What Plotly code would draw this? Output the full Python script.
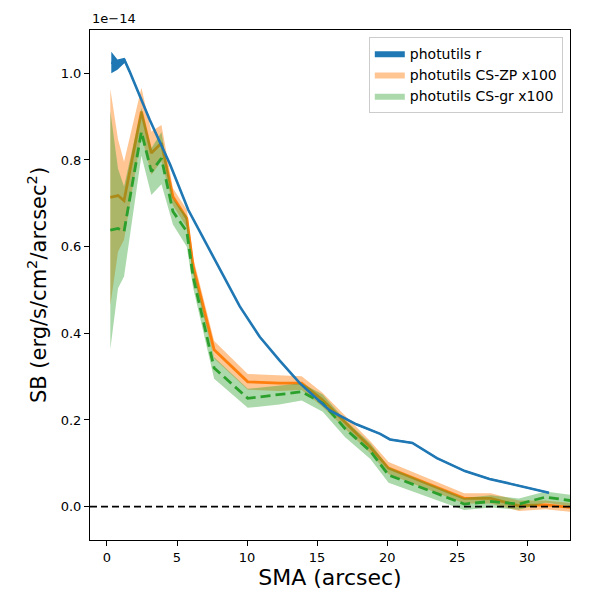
import plotly.graph_objects as go

# surface brightness profiles, values in units of 1e-14 erg/s/cm2/arcsec2
sma_r = [0.31, 0.75, 1.26, 1.62, 3.05, 4.5, 5.8, 7.57, 9.48, 10.9, 12.3, 13.76,
         15.9, 17.8, 19.5, 20.2, 21.8, 23.55, 25.55, 27.3, 29.5, 31.55]
sb_r = [1.025, 1.02, 1.03, 1.004, 0.893, 0.79, 0.685, 0.577, 0.462, 0.392, 0.338, 0.285,
        0.222, 0.19, 0.168, 0.155, 0.147, 0.112, 0.082, 0.064, 0.048, 0.032]
err_r = [0.025, 0.012, 0.006, 0.004, 0.003, 0.003, 0.002, 0.002, 0.002, 0.002, 0.002, 0.002,
         0.002, 0.002, 0.002, 0.002, 0.002, 0.002, 0.002, 0.002, 0.002, 0.002]

sma_cs = [0.24, 0.79, 1.22, 2.46, 3.17, 3.89, 4.71, 5.7, 6.15, 7.65, 10.05, 12.3,
          13.9, 15.4, 17.0, 18.8, 20.1, 25.5, 27.4, 29.4, 31.3, 33.1]
sb_zp = [0.714, 0.718, 0.706, 0.912, 0.816, 0.839, 0.715, 0.665, 0.555, 0.362, 0.288, 0.285,
         0.285, 0.246, 0.195, 0.137, 0.089, 0.019, 0.019, 0.002, 0.004, -0.002]
err_zp = [0.25, 0.13, 0.09, 0.055, 0.05, 0.042, 0.02, 0.02, 0.02, 0.02, 0.018, 0.018,
          0.016, 0.016, 0.015, 0.014, 0.014, 0.012, 0.012, 0.012, 0.01, 0.01]
sb_gr = [0.638, 0.642, 0.635, 0.865, 0.773, 0.804, 0.681, 0.635, 0.53, 0.32, 0.25, 0.258,
         0.265, 0.239, 0.18, 0.128, 0.073, 0.006, 0.012, 0.006, 0.022, 0.014]
err_gr = [0.275, 0.138, 0.104, 0.055, 0.054, 0.06, 0.03, 0.035, 0.025, 0.025, 0.022, 0.022,
          0.02, 0.02, 0.02, 0.018, 0.018, 0.014, 0.014, 0.013, 0.013, 0.013]

FONT = "DejaVu Sans"


def band(x, y, err, fill, name, rank):
    hi = [a + e for a, e in zip(y, err)]
    lo = [a - e for a, e in zip(y, err)]
    return go.Scatter(x=list(x) + list(x)[::-1], y=hi + lo[::-1], fill='toself',
                      fillcolor=fill, mode='lines', line=dict(width=0),
                      name=name, legendrank=rank, hoverinfo='skip')


fig = go.Figure()

fig.add_trace(band(sma_cs, sb_zp, err_zp, 'rgba(255,127,14,0.45)', 'photutils CS-ZP x100', 2))
fig.add_trace(go.Scatter(x=sma_cs, y=sb_zp, mode='lines', line=dict(color='#ff7f0e', width=2.8),
                         showlegend=False))
fig.add_trace(band(sma_cs, sb_gr, err_gr, 'rgba(44,160,44,0.4)', 'photutils CS-gr x100', 3))
fig.add_trace(go.Scatter(x=sma_cs, y=sb_gr, mode='lines',
                         line=dict(color='#2ca02c', width=2.8, dash='10px,5px'),
                         showlegend=False))
fig.add_trace(band(sma_r, sb_r, err_r, '#1f77b4', 'photutils r', 1))
fig.add_trace(go.Scatter(x=sma_r, y=sb_r, mode='lines', line=dict(color='#1f77b4', width=2.6),
                         showlegend=False))

# zero level
fig.add_hline(y=0, line=dict(color='black', width=1.8, dash='7px,4px'))

axis_common = dict(showline=True, linecolor='black', linewidth=1, mirror=True,
                   ticks='outside', ticklen=5, tickcolor='black', showgrid=False,
                   zeroline=False, automargin=False,
                   tickfont=dict(family=FONT, size=13, color='black'))

# page body has an 8px margin, so margins are trimmed by 8 on left/top
fig.update_layout(
    width=600, height=600,
    margin=dict(l=82, r=38, t=22, b=68),
    paper_bgcolor='white', plot_bgcolor='white',
    font=dict(family=FONT, color='black'),
    xaxis=dict(range=[-1.21, 33.05], tickvals=[0, 5, 10, 15, 20, 25, 30],
               title=dict(text='SMA (arcsec)', font=dict(size=22), standoff=6),
               **axis_common),
    yaxis=dict(range=[-0.077, 1.100], tickvals=[0, 0.2, 0.4, 0.6, 0.8, 1.0], tickformat='.1f',
               title=dict(text='SB (erg/s/cm<sup>2</sup>/arcsec<sup>2</sup>)', font=dict(size=21),
                          standoff=8),
               **axis_common),
    legend=dict(x=0.985, y=0.987, xanchor='right', yanchor='top',
                bgcolor='rgba(255,255,255,0.8)', bordercolor='#cccccc', borderwidth=1,
                font=dict(family=FONT, size=14), tracegroupgap=0),
    annotations=[dict(text='1e\u221214', xref='paper', yref='paper', x=0, y=1.003,
                      xanchor='left', yanchor='bottom', showarrow=False,
                      font=dict(family=FONT, size=13))],
)

fig.write_html("out.html")
